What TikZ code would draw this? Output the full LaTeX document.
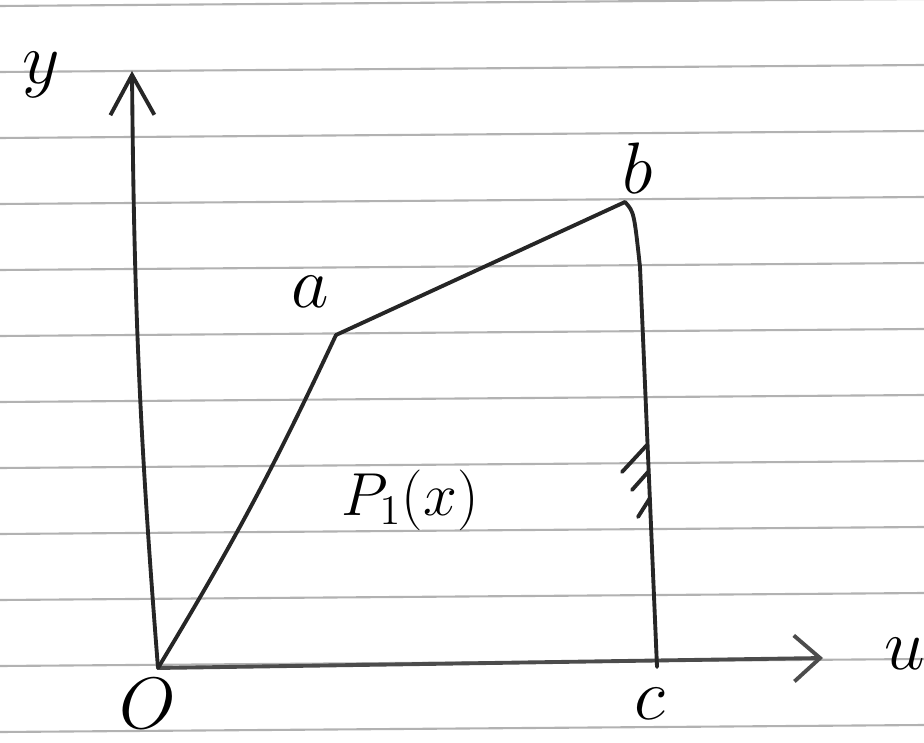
\documentclass[tikz,border=0pt]{standalone}
\usepackage{amsmath}
\usetikzlibrary{arrows.meta}

\begin{document}
\begin{tikzpicture}[
  ruling/.style={gray!60, line width=0.6pt},
  pen/.style={black!85, line width=1.1pt, line cap=round},
  yarr/.style={pen, -{Straight Barb[length=4mm, width=4.4mm]}},
  uarr/.style={pen, black!70, -{Straight Barb[length=2.6mm, width=4.6mm]}},
  lbl/.style={inner sep=0pt, font=\fontsize{22}{26}\selectfont},
  small/.style={inner sep=0pt, font=\LARGE},
]
\useasboundingbox (0,0) rectangle (9.24,7.42);

% ruled paper
\foreach \k in {0,...,11}
  \draw[ruling] (0,7.36-0.66*\k) -- (9.24,7.43-0.66*\k);

% points
\coordinate (O) at (1.58,0.74);
\coordinate (ytip) at (1.32,6.71);
\coordinate (utip) at (8.23,0.84);
\coordinate (a) at (3.36,4.07);
\coordinate (b) at (6.25,5.40);
\coordinate (bc) at (6.40,4.75);
\coordinate (c) at (6.57,0.75);

% axes
\draw[yarr] (O) to[bend left=2] (ytip);
\draw[uarr] (O) -- (utip);

% the curve O-a-b and the vertical b-c
\draw[pen] (O) to[bend right=3] (a);
\draw[pen] (a) -- (b);
\draw[pen] (b) .. controls (6.34,5.30) .. (bc) -- (c);

% ticks on b-c
\draw[pen] (6.47,2.97) -- ++(-0.25,-0.27);
\draw[pen] (6.48,2.70) -- ++(-0.16,-0.18);
\draw[pen] (6.50,2.44) -- ++(-0.12,-0.19);

% labels
\node[lbl] (ylbl) at (0.41,6.67) {$y$};
\node[lbl] (albl) at (3.10,4.50) {$a$};
\node[lbl] (blbl) at (6.38,5.74) {$b$};
\node[lbl] (Olbl) at (1.48,0.38) {$O$};
\node[lbl] (clbl) at (6.50,0.38) {$c$};
\node[lbl] (ulbl) at (9.05,0.88) {$u$};
\node[small] (plbl) at (4.10,2.42) {$P_1(x)$};
\end{tikzpicture}
\end{document}
